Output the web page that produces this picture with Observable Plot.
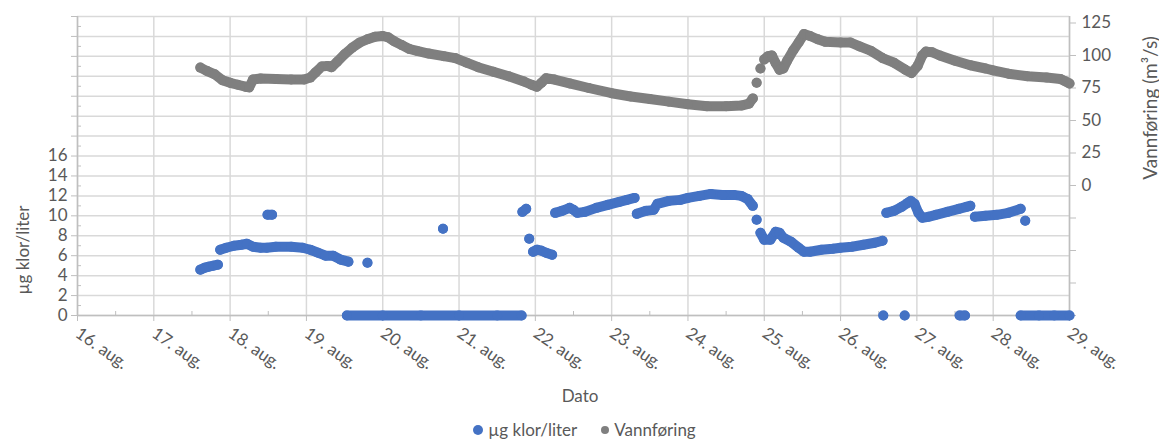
<!DOCTYPE html>
<html><head><meta charset="utf-8">
<script src="https://cdn.jsdelivr.net/npm/d3@7"></script>
<script src="https://cdn.jsdelivr.net/npm/@observablehq/plot@0.6"></script>
<style>
body{margin:0;background:#fff;font-family:Lato,"Open Sans",sans-serif;}
#chart{width:1159px;}
.legend{display:flex;justify-content:center;align-items:center;height:19px;font-size:17px;color:#595959;padding-left:10px}
.legend span.sw{display:inline-block;border-radius:50%;margin-right:5px}
.legend .item{display:flex;align-items:center;margin:0 12px}
</style></head><body><div id="chart"></div><script>
// x: day of August (fractional)
const xDomain = [16, 29];
const dayTicks = d3.range(16, 30);
const halfDayTicks = d3.range(16.5, 29, 1);
const leftDomain = [0, 30];
const leftMajorTicks = d3.range(0, 31, 2);
const leftMinorTicks = d3.range(1, 30, 2);
const leftLabelMax = 16;
const rightDomain = [-100, 130];
const rightTicks = [-100, -75, -50, -25, 0, 25, 50, 75, 100, 125];

// Vannføring (m3/s) — null separates runs of points
const flowDays = [17.61,17.7,17.8,17.9,18.0,18.1,18.2,18.25,18.3,18.4,18.6,18.8,18.97,19.05,19.12,19.2,19.28,19.33,19.4,19.5,19.6,19.7,19.8,19.9,20.0,20.07,20.15,20.25,20.35,20.45,20.6,20.8,20.95,21.1,21.25,21.45,21.65,21.85,21.95,22.02,22.08,22.14,22.25,22.45,22.7,23.0,23.25,23.5,23.75,24.0,24.25,24.5,24.7,24.8,24.85,
  null,24.9,null,24.95,null,
  25.0,25.05,25.1,25.15,25.2,25.25,25.3,25.38,25.45,25.52,25.6,25.7,25.8,26.0,26.13,26.25,26.4,26.55,26.7,26.85,26.93,27.01,27.07,27.12,27.2,27.3,27.5,27.7,27.9,28.0,28.2,28.45,28.7,28.88,28.95,29.0];
const flowValues = [90.7,88,85.5,81,79,77.5,76,75.5,81.5,82.3,82,81.5,81.5,83,87,91.5,92,91,95,101,106,110,112.5,114.5,115,114,111,108,105,103.5,101.5,99.5,98,94.5,91,87.5,84,80,77.5,76,79,82.5,81.5,78.5,75,71,68.5,66.5,64.5,62.5,61,61,61.5,63,67,
  null,79,null,90,null,
  97,99.5,100,94,89,90,96,104,110,116.5,115,112.5,110.5,110,110,107,103.5,98,94.5,89,86.5,92,100,103,102.5,100,96,92.5,90,88.5,86,84,83,82,80,78.5];

// µg klor/liter — null separates runs of points
const chlorDays = [17.61,17.67,17.72,17.78,17.84,null,
  17.87,17.95,18.05,18.15,18.22,18.3,18.4,18.48,18.6,18.8,18.95,19.05,19.15,19.25,19.35,19.45,19.55,null,
  18.49,18.55,null,
  19.8,null,
  19.53,20.0,20.5,21.0,21.5,21.82,null,
  20.79,null,
  21.83,21.88,null,
  21.92,null,
  21.97,22.02,22.08,22.14,22.22,null,
  22.26,22.35,22.45,22.5,22.55,22.65,22.8,22.95,23.1,23.2,23.3,null,
  23.33,23.45,23.55,23.6,23.75,23.9,24.0,24.15,24.3,24.45,24.6,24.7,24.78,24.85,null,
  24.9,null,
  24.95,25.0,25.08,25.15,25.2,25.25,25.35,25.45,25.52,25.6,25.75,25.9,26.0,26.15,26.3,26.45,26.55,null,
  26.56,null,26.84,null,27.56,27.63,null,
  26.6,26.7,26.8,26.88,26.92,26.97,27.02,27.07,27.15,27.25,27.4,27.55,27.65,27.7,null,
  27.76,27.9,28.05,28.2,28.36,null,
  28.42,null,
  28.36,28.6,28.8,29.0];
const chlorValues = [4.6,4.8,4.9,5.0,5.1,null,
  6.6,6.8,7.0,7.1,7.2,6.9,6.8,6.8,6.9,6.9,6.8,6.6,6.3,6.0,6.0,5.6,5.4,null,
  10.1,10.1,null,
  5.3,null,
  0,0,0,0,0,0,null,
  8.7,null,
  10.4,10.7,null,
  7.7,null,
  6.4,6.6,6.5,6.3,6.1,null,
  10.3,10.5,10.8,10.6,10.3,10.4,10.8,11.1,11.4,11.6,11.8,null,
  10.2,10.5,10.6,11.2,11.5,11.6,11.8,12.0,12.2,12.1,12.1,12.0,11.7,11.0,null,
  9.6,null,
  8.3,7.6,7.6,8.4,8.3,7.8,7.4,6.8,6.4,6.4,6.6,6.7,6.8,6.9,7.1,7.3,7.5,null,
  0,null,0,null,0,0,null,
  10.3,10.5,10.9,11.3,11.5,11.2,10.3,9.8,9.9,10.1,10.4,10.7,10.9,11.0,null,
  9.9,10.0,10.1,10.3,10.7,null,
  9.5,null,
  0,0,0,0];

const blue = "#4472c4", gray = "#7f7f7f", grid = "#d9d9d9", axisCol = "#bfbfbf", text = "#595959";
const toLeft = v => (v - rightDomain[0]) * (leftDomain[1] - leftDomain[0]) / (rightDomain[1] - rightDomain[0]) + leftDomain[0];
const fromLeft = y => (y - leftDomain[0]) * (rightDomain[1] - rightDomain[0]) / (leftDomain[1] - leftDomain[0]) + rightDomain[0];

const flow = flowDays.map((d, i) => ({day: d, y: flowValues[i] == null ? NaN : toLeft(flowValues[i])}));
const chlor = chlorDays.map((d, i) => ({day: d, y: chlorValues[i] == null ? NaN : chlorValues[i]}));

const W = 1159, H = 420;
const chart = Plot.plot({
  width: W, height: H,
  marginLeft: 77, marginRight: 90, marginTop: 16, marginBottom: 105,
  style: {fontFamily: "Lato, 'Open Sans', sans-serif", fontSize: "17px", color: text, background: "#fff"},
  x: {domain: xDomain},
  y: {domain: leftDomain},
  marks: [
    Plot.gridY(leftMajorTicks, {stroke: grid, strokeOpacity: 1, strokeWidth: 1.5}),
    Plot.gridX(dayTicks, {stroke: grid, strokeOpacity: 1, strokeWidth: 1.5}),
    Plot.ruleX([xDomain[0], xDomain[1]], {stroke: axisCol, strokeWidth: 1.5}),
    Plot.ruleY([leftDomain[0]], {stroke: axisCol, strokeWidth: 1.5}),
    Plot.axisY(leftMajorTicks, {anchor: "left", tickSize: 6, tickPadding: 4, stroke: axisCol, fill: text, label: null,
      tickFormat: d => d <= leftLabelMax ? String(d) : ""}),
    Plot.axisY(leftMinorTicks, {anchor: "left", tickSize: -4, stroke: axisCol, label: null, tickFormat: () => ""}),
    Plot.axisY(rightTicks.map(toLeft), {anchor: "right", tickSize: 6, tickPadding: 6, stroke: axisCol, fill: text, label: null,
      tickFormat: d => { const v = Math.round(fromLeft(d)); return v >= 0 ? String(v) : ""; }}),
    Plot.axisX(dayTicks, {anchor: "bottom", tickSize: 6, tickPadding: 10, tickRotate: 35, stroke: axisCol, fill: text, label: null,
      tickFormat: d => `${d}. aug.`}),
    Plot.axisX(halfDayTicks, {anchor: "bottom", tickSize: -4, stroke: axisCol, label: null, tickFormat: () => ""}),
    Plot.line(flow, {x: "day", y: "y", stroke: gray, strokeWidth: 10, strokeLinecap: "round", strokeLinejoin: "round"}),
    Plot.dot(flow, {x: "day", y: "y", r: 5, fill: gray}),
    Plot.line(chlor, {x: "day", y: "y", stroke: blue, strokeWidth: 10, strokeLinecap: "round", strokeLinejoin: "round"}),
    Plot.dot(chlor, {x: "day", y: "y", r: 5, fill: blue})
  ]
});

const svg = d3.select(chart);
const addText = (str, x, y, rot, size) => {
  svg.append("text").attr("transform", `translate(${x},${y}) rotate(${rot})`)
    .attr("text-anchor", "middle").attr("dominant-baseline", "central")
    .attr("fill", text).attr("font-size", size).text(str);
};
addText("µg klor/liter", 22, 250, -90, "17px");
addText("Vannføring (m³/s)", 1149, 108, -90, "19px");
addText("Dato", 580, 395, 0, "17px");

document.getElementById("chart").append(chart);

const legend = document.createElement("div");
legend.className = "legend";
[["µg klor/liter", blue, 10], ["Vannføring", gray, 8]].forEach(([lab, col, sz]) => {
  const it = document.createElement("div"); it.className = "item";
  const sw = document.createElement("span"); sw.className = "sw";
  sw.style.width = sz + "px"; sw.style.height = sz + "px"; sw.style.background = col;
  it.append(sw, document.createTextNode(lab));
  legend.append(it);
});
document.getElementById("chart").append(legend);
</script></body></html>
